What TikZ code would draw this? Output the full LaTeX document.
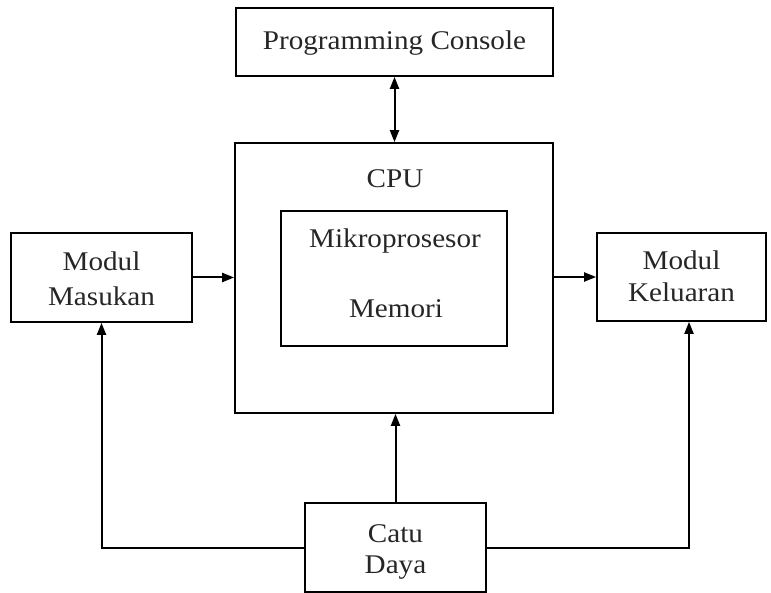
\documentclass[tikz,border=0pt]{standalone}
\usepackage{fontspec}
\setmainfont{Liberation Serif}[FakeStretch=1.08]
\usetikzlibrary{arrows.meta}
\tikzset{
  box/.style={draw=black,line width=1.7pt,inner sep=0pt,minimum width=#1},
  lbl/.style={anchor=base,inner sep=0pt,text=black!85,font=\fontsize{27}{32}\selectfont},
  tipa/.tip={Triangle[length=12pt,width=9pt]},
  conn/.style={draw=black,line width=2pt,-tipa},
  conn2/.style={draw=black,line width=2pt,tipa-tipa}}
\begin{document}
\begin{tikzpicture}[x=1pt,y=-1pt]
\useasboundingbox (0,0) rectangle (771,593);
% boxes
\node[box=317pt,minimum height=68pt] (pc) at (394.5,42) {};
\node[box=318pt,minimum height=270pt] (cpu) at (394,278) {};
\node[box=226pt,minimum height=135pt] (inner) at (394,278.5) {};
\node[box=181pt,minimum height=89pt] (masukan) at (101.5,277.5) {};
\node[box=169pt,minimum height=88pt] (keluaran) at (681.5,277) {};
\node[box=181pt,minimum height=89pt] (catu) at (395.5,547.5) {};
% labels
\node[lbl] (tpc) at (394.5,50) {Programming Console};
\node[lbl] (tcpu) at (395,188) {CPU};
\node[lbl] (tmik) at (395,248) {Mikroprosesor};
\node[lbl] (tmem) at (396,318) {Memori};
\node[lbl] (tmod1) at (101.5,271) {Modul};
\node[lbl] (tmas) at (101.5,306) {Masukan};
\node[lbl] (tmod2) at (681.5,270) {Modul};
\node[lbl] (tkel) at (681.5,302) {Keluaran};
\node[lbl] (tcatu) at (395.5,542) {Catu};
\node[lbl] (tdaya) at (395.5,573) {Daya};
% connectors
\draw[conn2] (pc.south) -- (pc.south |- cpu.north);
\draw[conn] (masukan.east) -- (masukan.east -| cpu.west);
\draw[conn] (cpu.east |- keluaran.west) -- (keluaran.west);
\draw[conn] (catu.north) -- (catu.north |- cpu.south);
\draw[conn] (catu.west) -| (masukan.south);
\coordinate (kin) at ([xshift=7.5pt]keluaran.south);
\draw[conn] (catu.east) -| (kin);
\end{tikzpicture}
\end{document}
